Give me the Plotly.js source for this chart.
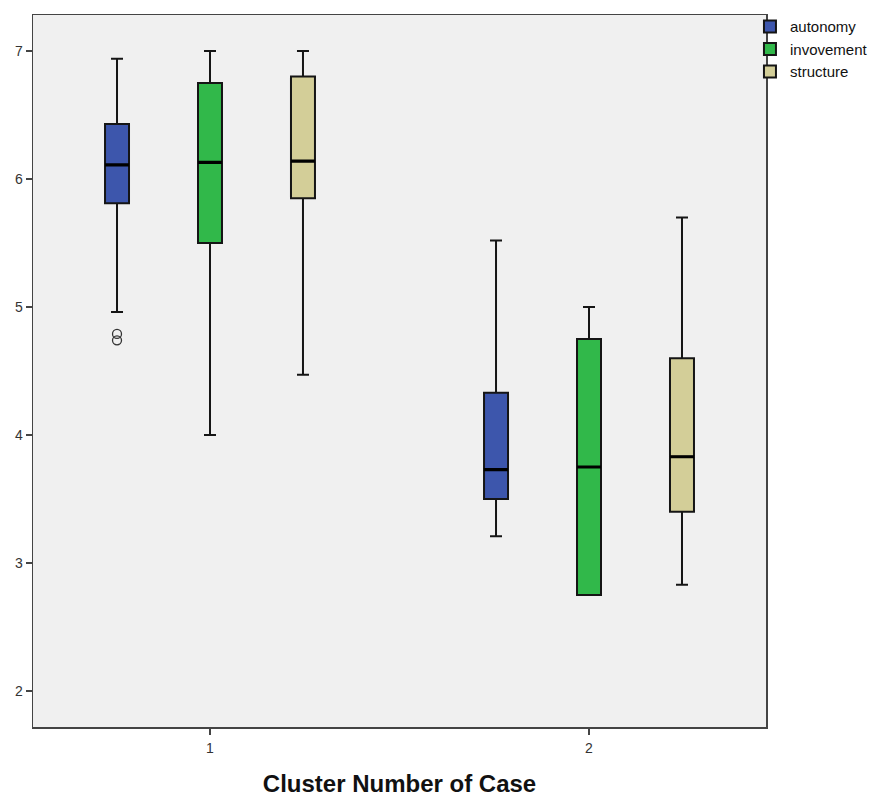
<!DOCTYPE html>
<html>
<head>
<meta charset="utf-8">
<script src="https://cdn.plot.ly/plotly-3.0.1.min.js"></script>
<style>html,body{margin:0;padding:0;background:#fff;}#chart{width:879px;height:797px;}</style>
</head>
<body>
<div id="chart"></div>
<script>
// ---- data ----
const clusters = [1, 2];
const seriesNames = ["autonomy", "invovement", "structure"];

const autonomyLower  = [4.96, 3.21];
const autonomyQ1     = [5.81, 3.50];
const autonomyMedian = [6.11, 3.73];
const autonomyQ3     = [6.43, 4.33];
const autonomyUpper  = [6.94, 5.52];

const invovementLower  = [4.00, 2.75];
const invovementQ1     = [5.50, 2.75];
const invovementMedian = [6.13, 3.75];
const invovementQ3     = [6.75, 4.75];
const invovementUpper  = [7.00, 5.00];

const structureLower  = [4.47, 2.83];
const structureQ1     = [5.85, 3.40];
const structureMedian = [6.14, 3.83];
const structureQ3     = [6.80, 4.60];
const structureUpper  = [7.00, 5.70];

// outliers: autonomy, cluster 1
const outlierCluster = [1, 1];
const outlierValues  = [4.79, 4.74];

const yTicks = [2, 3, 4, 5, 6, 7];

// ---- styling ----
const colors = ["#3D56AC", "#31B84A", "#D3CE98"];
const BOXGAP = 0.264, BOXGROUPGAP = 0.742;

const stats = [
  [autonomyLower, autonomyQ1, autonomyMedian, autonomyQ3, autonomyUpper],
  [invovementLower, invovementQ1, invovementMedian, invovementQ3, invovementUpper],
  [structureLower, structureQ1, structureMedian, structureQ3, structureUpper]
];

const traces = [];
stats.forEach((s, i) => {
  traces.push({
    type: "box", name: seriesNames[i], x: clusters,
    lowerfence: s[0], q1: s[1], median: s[2], q3: s[3], upperfence: s[4],
    fillcolor: colors[i], line: {color: "#151515", width: 2},
    whiskerwidth: 0.5, boxpoints: false,
    offsetgroup: seriesNames[i], alignmentgroup: "a",
    hoverinfo: "skip"
  });
});
// thicker median lines
stats.forEach((s, i) => {
  traces.push({
    type: "box", name: seriesNames[i] + "_med", x: clusters,
    lowerfence: s[2], q1: s[2], median: s[2], q3: s[2], upperfence: s[2],
    fillcolor: "rgba(0,0,0,0)", line: {color: "#000", width: 3.2},
    whiskerwidth: 0, boxpoints: false, showlegend: false,
    offsetgroup: seriesNames[i], alignmentgroup: "a",
    hoverinfo: "skip"
  });
});
// outliers placed at the autonomy slot offset (derived from the group gap)
const slotOffset = (1 - BOXGAP) / 3;
traces.push({
  type: "scatter", mode: "markers",
  x: outlierCluster.map(c => c - slotOffset), y: outlierValues,
  marker: {symbol: "circle-open", size: 9, color: "#333", line: {width: 1.3}},
  showlegend: false, hoverinfo: "skip"
});

const layout = {
  width: 879, height: 797,
  margin: {l: 33, r: 113, t: 15, b: 70, autoexpand: false},
  paper_bgcolor: "#ffffff", plot_bgcolor: "#f0f0f0",
  font: {family: "Liberation Sans, Arial, sans-serif", color: "#222", size: 13},
  boxmode: "group", boxgap: BOXGAP, boxgroupgap: BOXGROUPGAP,
  showlegend: true,
  legend: {xref: "container", yref: "container", x: 0.8532, y: 0.987,
           xanchor: "left", yanchor: "top",
           bgcolor: "rgba(0,0,0,0)", font: {size: 15, color: "#111"},
           itemclick: false, tracegroupgap: 0},
  xaxis: {
    type: "linear", range: [0.533, 2.467], tickvals: clusters, ticktext: clusters.map(String),
    ticks: "outside", ticklen: 6, tickwidth: 1.5, tickcolor: "#444",
    showline: true, linecolor: "#444", linewidth: 1.5, mirror: true,
    showgrid: false, zeroline: false, ticklabelstandoff: 2, automargin: true,
    tickfont: {size: 14, color: "#333"},
    title: {text: "Cluster Number of Case", standoff: 24,
            font: {size: 24, color: "#111", family: "Liberation Sans, Arial, sans-serif", weight: "bold"}}
  },
  yaxis: {
    range: [1.719, 7.281], tickvals: yTicks,
    ticks: "outside", ticklen: 6, tickwidth: 1.5, tickcolor: "#444",
    showline: true, linecolor: "#444", linewidth: 1.5, mirror: true,
    showgrid: false, zeroline: false,
    tickfont: {size: 14, color: "#333"}
  }
};

Plotly.newPlot("chart", traces, layout, {displayModeBar: false, staticPlot: true});
</script>
</body>
</html>
